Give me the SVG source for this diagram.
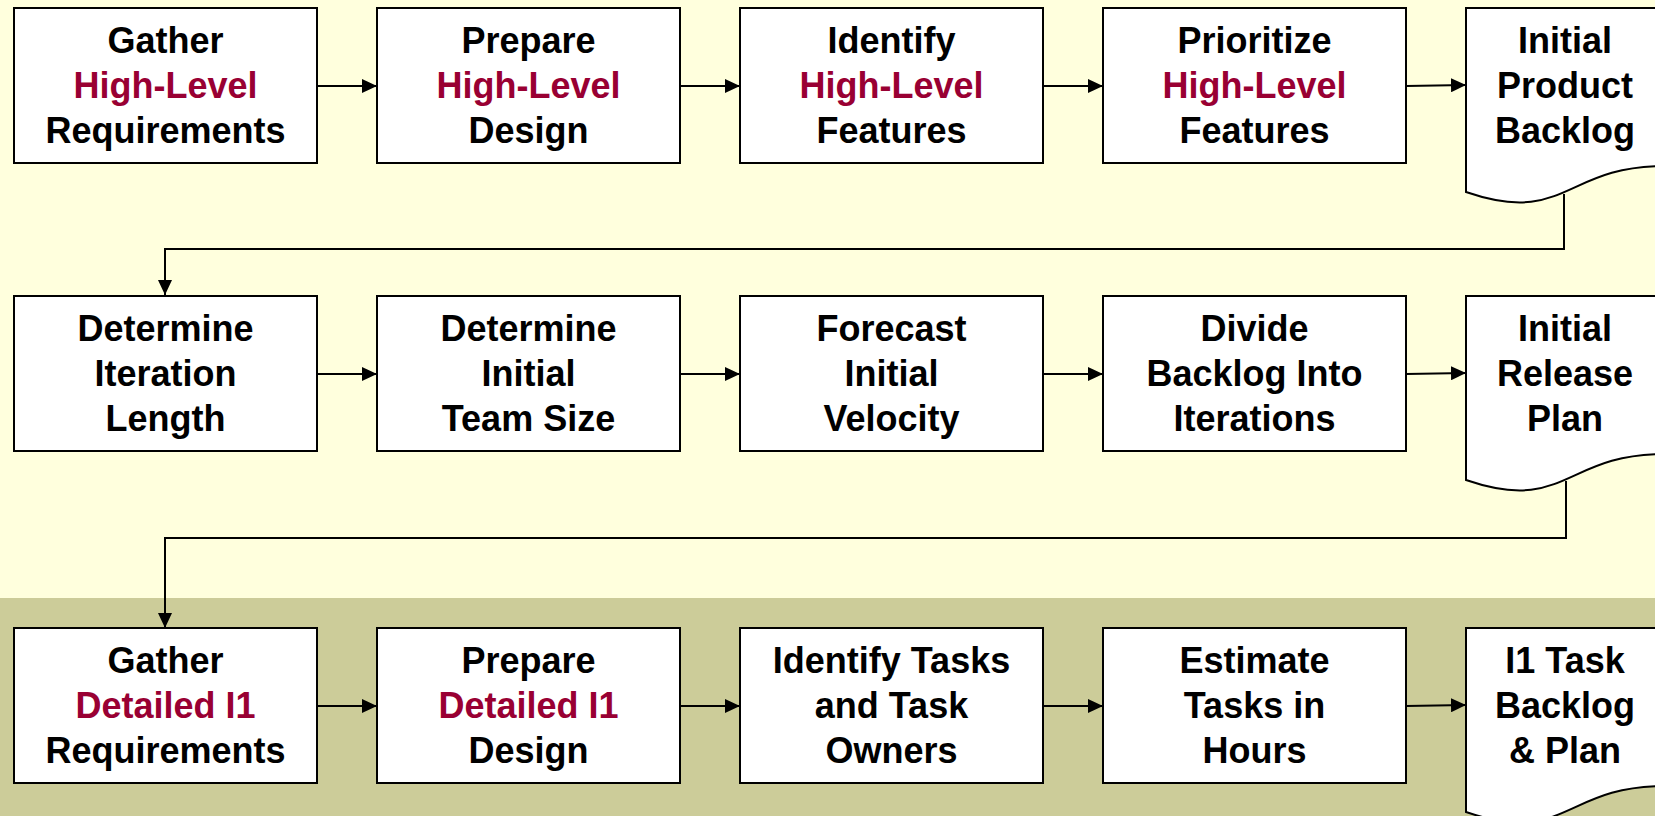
<svg xmlns="http://www.w3.org/2000/svg" width="1655" height="816" viewBox="0 0 1655 816">
<defs>
<marker id="arr" viewBox="0 0 15 14" refX="15" refY="7" markerWidth="15" markerHeight="14" markerUnits="userSpaceOnUse" orient="auto">
<path d="M0,0 L15,7 L0,14 z" fill="#000"/>
</marker>
<style>
.box{fill:#fff;stroke:#000;stroke-width:2}
.t{font-family:"Liberation Sans",Arial,sans-serif;font-weight:bold;font-size:36px;text-anchor:middle;fill:#000}
.r{fill:#990033}
.c{fill:none;stroke:#000;stroke-width:2;marker-end:url(#arr)}
</style>
</defs>
<rect x="0" y="0" width="1655" height="598" fill="#FFFFDD"/>
<rect x="0" y="598" width="1655" height="218" fill="#CCCC99"/>

<g id="connectors">
<path class="c" d="M317,86 L377,86"/>
<path class="c" d="M680,86 L740,86"/>
<path class="c" d="M1043,86 L1103,86"/>
<path class="c" d="M1406,86 L1466,85"/>
<path class="c" d="M1564,194 L1564,249 L165,249 L165,295"/>
<path class="c" d="M317,374 L377,374"/>
<path class="c" d="M680,374 L740,374"/>
<path class="c" d="M1043,374 L1103,374"/>
<path class="c" d="M1406,374 L1466,373"/>
<path class="c" d="M1566,481 L1566,538 L165,538 L165,628"/>
<path class="c" d="M317,706 L377,706"/>
<path class="c" d="M680,706 L740,706"/>
<path class="c" d="M1043,706 L1103,706"/>
<path class="c" d="M1406,706 L1466,705"/>
</g>

<g id="n1"><rect class="box" x="14" y="8" width="303" height="155"/>
<text class="t" x="165.5" y="53">Gather</text><text class="t r" x="165.5" y="98">High-Level</text><text class="t" x="165.5" y="143">Requirements</text></g>
<g id="n2"><rect class="box" x="377" y="8" width="303" height="155"/>
<text class="t" x="528.5" y="53">Prepare</text><text class="t r" x="528.5" y="98">High-Level</text><text class="t" x="528.5" y="143">Design</text></g>
<g id="n3"><rect class="box" x="740" y="8" width="303" height="155"/>
<text class="t" x="891.5" y="53">Identify</text><text class="t r" x="891.5" y="98">High-Level</text><text class="t" x="891.5" y="143">Features</text></g>
<g id="n4"><rect class="box" x="1103" y="8" width="303" height="155"/>
<text class="t" x="1254.5" y="53">Prioritize</text><text class="t r" x="1254.5" y="98">High-Level</text><text class="t" x="1254.5" y="143">Features</text></g>
<g id="n5"><path class="box" d="M1466,8 L1664,8 L1664,166 C1565,166 1565,226 1466,192 Z"/>
<text class="t" x="1565" y="53">Initial</text><text class="t" x="1565" y="98">Product</text><text class="t" x="1565" y="143">Backlog</text></g>

<g id="n6"><rect class="box" x="14" y="296" width="303" height="155"/>
<text class="t" x="165.5" y="341">Determine</text><text class="t" x="165.5" y="386">Iteration</text><text class="t" x="165.5" y="431">Length</text></g>
<g id="n7"><rect class="box" x="377" y="296" width="303" height="155"/>
<text class="t" x="528.5" y="341">Determine</text><text class="t" x="528.5" y="386">Initial</text><text class="t" x="528.5" y="431">Team Size</text></g>
<g id="n8"><rect class="box" x="740" y="296" width="303" height="155"/>
<text class="t" x="891.5" y="341">Forecast</text><text class="t" x="891.5" y="386">Initial</text><text class="t" x="891.5" y="431">Velocity</text></g>
<g id="n9"><rect class="box" x="1103" y="296" width="303" height="155"/>
<text class="t" x="1254.5" y="341">Divide</text><text class="t" x="1254.5" y="386">Backlog Into</text><text class="t" x="1254.5" y="431">Iterations</text></g>
<g id="n10"><path class="box" d="M1466,296 L1664,296 L1664,454 C1565,454 1565,514 1466,480 Z"/>
<text class="t" x="1565" y="341">Initial</text><text class="t" x="1565" y="386">Release</text><text class="t" x="1565" y="431">Plan</text></g>

<g id="n11"><rect class="box" x="14" y="628" width="303" height="155"/>
<text class="t" x="165.5" y="673">Gather</text><text class="t r" x="165.5" y="718">Detailed I1</text><text class="t" x="165.5" y="763">Requirements</text></g>
<g id="n12"><rect class="box" x="377" y="628" width="303" height="155"/>
<text class="t" x="528.5" y="673">Prepare</text><text class="t r" x="528.5" y="718">Detailed I1</text><text class="t" x="528.5" y="763">Design</text></g>
<g id="n13"><rect class="box" x="740" y="628" width="303" height="155"/>
<text class="t" x="891.5" y="673">Identify Tasks</text><text class="t" x="891.5" y="718">and Task</text><text class="t" x="891.5" y="763">Owners</text></g>
<g id="n14"><rect class="box" x="1103" y="628" width="303" height="155"/>
<text class="t" x="1254.5" y="673">Estimate</text><text class="t" x="1254.5" y="718">Tasks in</text><text class="t" x="1254.5" y="763">Hours</text></g>
<g id="n15"><path class="box" d="M1466,628 L1664,628 L1664,786 C1565,786 1565,846 1466,812 Z"/>
<text class="t" x="1565" y="673">I1 Task</text><text class="t" x="1565" y="718">Backlog</text><text class="t" x="1565" y="763">&amp; Plan</text></g>
</svg>
